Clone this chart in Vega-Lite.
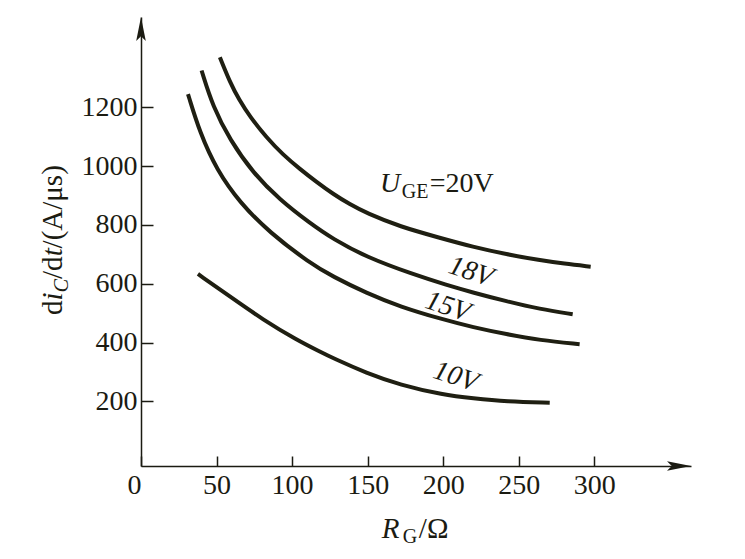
{
  "$schema": "https://vega.github.io/schema/vega-lite/v6.json",
  "width": 550,
  "height": 449,
  "autosize": {"type": "none"},
  "padding": {"left": 141, "top": 17, "right": 54, "bottom": 93},
  "background": "white",
  "config": {"view": {"stroke": null}, "font": "Liberation Serif"},
  "encoding": {
    "x": {
      "field": "R", "type": "quantitative",
      "scale": {"domain": [0, 364], "nice": false, "zero": false},
      "axis": {
        "values": [0, 50, 100, 150, 200, 250, 300], "format": "d",
        "title": null, "grid": false,
        "domainColor": "#1b1b12", "domainWidth": 1.5,
        "tickColor": "#1b1b12", "tickWidth": 1.5, "tickSize": -10,
        "labelPadding": 15, "labelFont": "Liberation Serif", "labelFontSize": 28,
        "labelColor": "#1b1b12",
        "labelAlign": {"condition": {"test": "datum.value == 0", "value": "right"}, "value": "center"},
        "labelFlush": false, "labelOverlap": false
      }
    },
    "y": {
      "field": "di", "type": "quantitative",
      "scale": {"domain": [-20, 1507], "nice": false, "zero": false},
      "axis": {
        "values": [200, 400, 600, 800, 1000, 1200], "format": "d",
        "title": null, "grid": false,
        "domainColor": "#1b1b12", "domainWidth": 1.5,
        "tickColor": "#1b1b12", "tickWidth": 1.5, "tickSize": -12,
        "labelPadding": 16, "labelFont": "Liberation Serif", "labelFontSize": 28,
        "labelColor": "#1b1b12", "labelFlush": false, "labelOverlap": false
      }
    }
  },
  "layer": [
    {
      "data": {"values": [
        {"series": "20V", "R": 52.2, "di": 1370}, {"series": "20V", "R": 58.9, "di": 1285},
        {"series": "20V", "R": 65.0, "di": 1225}, {"series": "20V", "R": 72.1, "di": 1168},
        {"series": "20V", "R": 83.1, "di": 1097}, {"series": "20V", "R": 94.1, "di": 1038},
        {"series": "20V", "R": 105.2, "di": 990}, {"series": "20V", "R": 116.2, "di": 946},
        {"series": "20V", "R": 127.2, "di": 905}, {"series": "20V", "R": 138.2, "di": 870},
        {"series": "20V", "R": 149.3, "di": 840}, {"series": "20V", "R": 171.3, "di": 794},
        {"series": "20V", "R": 197.8, "di": 756}, {"series": "20V", "R": 219.6, "di": 725},
        {"series": "20V", "R": 241.9, "di": 700}, {"series": "20V", "R": 263.9, "di": 680},
        {"series": "20V", "R": 280.0, "di": 668}, {"series": "20V", "R": 297.6, "di": 658},
        {"series": "18V", "R": 40.1, "di": 1325}, {"series": "18V", "R": 47.6, "di": 1202},
        {"series": "18V", "R": 58.9, "di": 1089}, {"series": "18V", "R": 74.1, "di": 977},
        {"series": "18V", "R": 91.9, "di": 885}, {"series": "18V", "R": 111.8, "di": 806},
        {"series": "18V", "R": 127.0, "di": 752}, {"series": "18V", "R": 149.3, "di": 690},
        {"series": "18V", "R": 180.0, "di": 632},
        {"series": "18V", "R": 202.0, "di": 596}, {"series": "18V", "R": 219.6, "di": 570},
        {"series": "18V", "R": 241.9, "di": 540}, {"series": "18V", "R": 263.9, "di": 514},
        {"series": "18V", "R": 285.7, "di": 496},
        {"series": "15V", "R": 31.1, "di": 1245}, {"series": "15V", "R": 39.0, "di": 1113},
        {"series": "15V", "R": 50.1, "di": 987}, {"series": "15V", "R": 65.5, "di": 875},
        {"series": "15V", "R": 85.3, "di": 773}, {"series": "15V", "R": 111.8, "di": 670},
        {"series": "15V", "R": 127.0, "di": 624}, {"series": "15V", "R": 149.3, "di": 568},
        {"series": "15V", "R": 171.3, "di": 522}, {"series": "15V", "R": 200, "di": 478},
        {"series": "15V", "R": 219.6, "di": 452}, {"series": "15V", "R": 241.9, "di": 428},
        {"series": "15V", "R": 263.9, "di": 408}, {"series": "15V", "R": 290.3, "di": 394},
        {"series": "10V", "R": 37.7, "di": 633}, {"series": "10V", "R": 58.9, "di": 556},
        {"series": "10V", "R": 80.9, "di": 477}, {"series": "10V", "R": 103.0, "di": 409},
        {"series": "10V", "R": 118.4, "di": 369}, {"series": "10V", "R": 127.0, "di": 347},
        {"series": "10V", "R": 149.3, "di": 296}, {"series": "10V", "R": 171.3, "di": 256},
        {"series": "10V", "R": 200, "di": 222}, {"series": "10V", "R": 219.6, "di": 210},
        {"series": "10V", "R": 241.9, "di": 199}, {"series": "10V", "R": 270.5, "di": 195}
      ]},
      "mark": {"type": "line", "interpolate": "basis", "strokeWidth": 4, "color": "#1f1f12", "strokeCap": "butt"},
      "encoding": {"detail": {"field": "series"}}
    },
    {
      "data": {"values": [{"R": 364, "di": -20}]},
      "mark": {"type": "point", "shape": "M0,0 L-2,-0.4 L-1.6,0 L-2,0.4 Z", "size": 576, "filled": true, "color": "#1b1b12", "opacity": 1}
    },
    {
      "data": {"values": [{"R": 0, "di": 1507}]},
      "mark": {"type": "point", "shape": "M0,0 L-0.4,2 L0,1.6 L0.4,2 Z", "size": 576, "filled": true, "color": "#1b1b12", "opacity": 1}
    },
    {
      "data": {"values": [{"R": 218.3, "di": 640, "label": "18V"}, {"R": 203, "di": 521, "label": "15V"}, {"R": 208.3, "di": 283, "label": "10V"}]},
      "mark": {"type": "text", "font": "Liberation Serif", "fontSize": 28, "fontStyle": "italic", "angle": 18, "align": "center", "baseline": "middle", "color": "#1b1b12"},
      "encoding": {"text": {"field": "label"}}
    },
    {
      "data": {"values": [{"R": 158.1, "di": 913, "label": "U"}]},
      "mark": {"type": "text", "font": "Liberation Serif", "fontSize": 28, "fontStyle": "italic", "align": "left", "baseline": "alphabetic", "color": "#1b1b12"},
      "encoding": {"text": {"field": "label"}}
    },
    {
      "data": {"values": [{"R": 172.6, "di": 891.6, "label": "GE"}]},
      "mark": {"type": "text", "font": "Liberation Serif", "fontSize": 20, "align": "left", "baseline": "alphabetic", "color": "#1b1b12"},
      "encoding": {"text": {"field": "label"}}
    },
    {
      "data": {"values": [{"R": 191.1, "di": 913, "label": "=20V"}]},
      "mark": {"type": "text", "font": "Liberation Serif", "fontSize": 28, "align": "left", "baseline": "alphabetic", "color": "#1b1b12"},
      "encoding": {"text": {"field": "label"}}
    },
    {
      "data": {"values": [{"R": 159.4, "di": -264.9, "label": "R"}]},
      "mark": {"type": "text", "font": "Liberation Serif", "fontSize": 29, "fontStyle": "italic", "align": "left", "baseline": "alphabetic", "color": "#1b1b12"},
      "encoding": {"text": {"field": "label"}}
    },
    {
      "data": {"values": [{"R": 173.3, "di": -281.9, "label": "G"}]},
      "mark": {"type": "text", "font": "Liberation Serif", "fontSize": 20, "align": "left", "baseline": "alphabetic", "color": "#1b1b12"},
      "encoding": {"text": {"field": "label"}}
    },
    {
      "data": {"values": [{"R": 183.9, "di": -264.9, "label": "/Ω"}]},
      "mark": {"type": "text", "font": "Liberation Serif", "fontSize": 29, "align": "left", "baseline": "alphabetic", "color": "#1b1b12"},
      "encoding": {"text": {"field": "label"}}
    },
    {
      "data": {"values": [{"R": -52.2, "di": 493.6, "label": "d"}, {"R": -52.2, "di": 616, "label": "/d"}, {"R": -52.2, "di": 720, "label": "/(A/μs)"}]},
      "mark": {"type": "text", "font": "Liberation Serif", "fontSize": 29, "angle": 270, "align": "left", "baseline": "alphabetic", "color": "#1b1b12"},
      "encoding": {"text": {"field": "label"}}
    },
    {
      "data": {"values": [{"R": -52.2, "di": 543, "label": "i"}, {"R": -52.2, "di": 693, "label": "t"}]},
      "mark": {"type": "text", "font": "Liberation Serif", "fontSize": 29, "fontStyle": "italic", "angle": 270, "align": "left", "baseline": "alphabetic", "color": "#1b1b12"},
      "encoding": {"text": {"field": "label"}}
    },
    {
      "data": {"values": [{"R": -48.2, "di": 570.5, "label": "C"}]},
      "mark": {"type": "text", "font": "Liberation Serif", "fontSize": 20, "fontStyle": "italic", "angle": 270, "align": "left", "baseline": "alphabetic", "color": "#1b1b12"},
      "encoding": {"text": {"field": "label"}}
    }
  ]
}
